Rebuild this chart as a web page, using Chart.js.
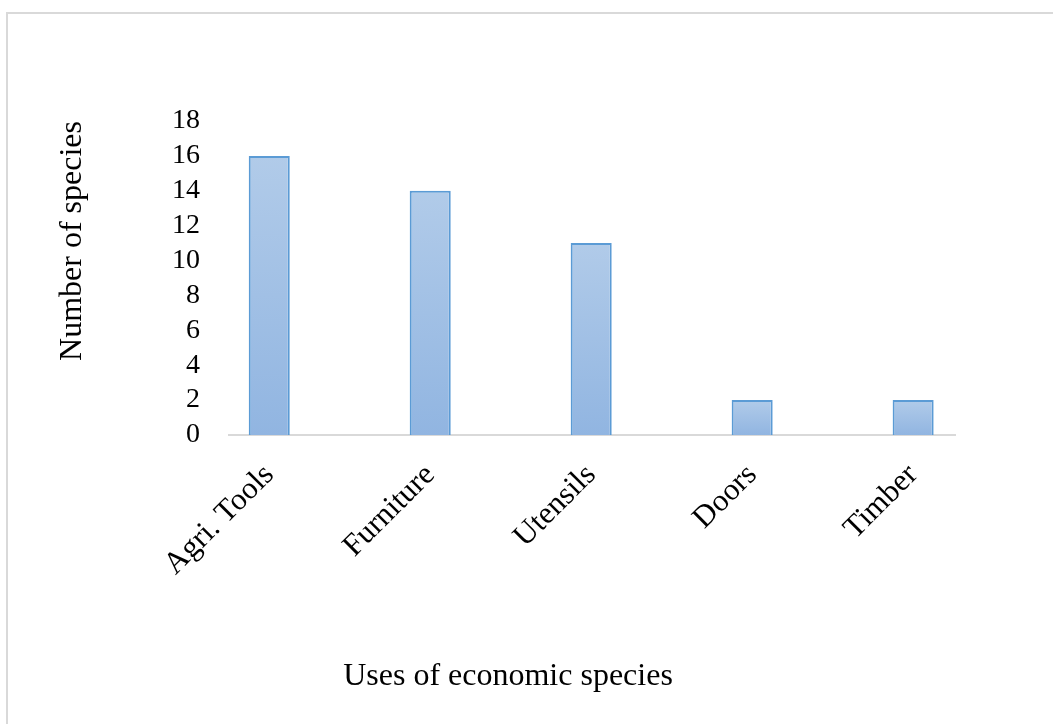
<!DOCTYPE html>
<html>
<head>
<meta charset="utf-8">
<title>Uses of economic species</title>
<script src="https://cdn.jsdelivr.net/npm/chart.js@4/dist/chart.umd.min.js"></script>
<style>
  html, body { margin: 0; padding: 0; background: #fff; overflow: hidden; }
  .frame {
    position: absolute;
    left: 6px;
    top: 12px;
    width: 1200px;
    height: 900px;
    border-left: 2px solid #d9d9d9;
    border-top: 2px solid #d9d9d9;
  }
  #usesChart { position: absolute; left: 0; top: 0; }
</style>
</head>
<body>
<div class="frame"></div>
<canvas id="usesChart" width="1053" height="724"></canvas>
<script>
const categories = ['Agri. Tools', 'Furniture', 'Utensils', 'Doors', 'Timber'];
const speciesCount = [16, 14, 11, 2, 2];
const yTicks = [0, 2, 4, 6, 8, 10, 12, 14, 16, 18];

const serif = "'Liberation Serif', 'Times New Roman', serif";

// light-to-darker blue per bar, top to bottom
function barFill(context) {
  const chart = context.chart;
  const yScale = chart.scales.y;
  if (!yScale || !context.raw) return '#a4c2e6';
  const top = yScale.getPixelForValue(context.raw.y);
  const bottom = yScale.getPixelForValue(0);
  if (!isFinite(top) || !isFinite(bottom) || top === bottom) return '#a4c2e6';
  const grad = chart.ctx.createLinearGradient(0, top, 0, bottom);
  grad.addColorStop(0, '#b1cbe9');
  grad.addColorStop(1, '#91b5e1');
  return grad;
}

function renderChart() {
  const ctx = document.getElementById('usesChart').getContext('2d');

  new Chart(ctx, {
    type: 'bar',
    data: {
      datasets: [{
        label: 'Number of species',
        data: speciesCount.map((v, i) => ({ x: i, y: v })),
        backgroundColor: barFill,
        borderColor: '#5b9bd5',
        borderWidth: 2,
        barPercentage: 0.255,
        categoryPercentage: 1
      }]
    },
    options: {
      responsive: false,
      animation: false,
      layout: {
        padding: { left: 61, right: 98, top: 121, bottom: 0 }
      },
      plugins: {
        legend: { display: false },
        tooltip: { enabled: false },
        title: {
          display: true,
          position: 'bottom',
          text: 'Uses of economic species',
          color: '#000',
          font: { family: serif, size: 32, weight: 'normal', lineHeight: 1.2 },
          padding: { top: 0, bottom: 28 }
        }
      },
      scales: {
        x: {
          type: 'linear',
          offset: false,
          min: -0.25,
          max: 4.26,
          afterBuildTicks: scale => {
            scale.ticks = categories.map((c, i) => ({ value: i }));
          },
          afterFit: scale => {
            scale.height = 222.6;
          },
          grid: { display: false, drawTicks: false, offset: false },
          border: { display: true, color: '#d9d9d9', width: 2 },
          ticks: {
            autoSkip: false,
            minRotation: 45,
            maxRotation: 45,
            padding: 22,
            color: '#000',
            font: { family: serif, size: 31 },
            callback: value => categories[value]
          }
        },
        y: {
          min: 0,
          max: 18,
          afterBuildTicks: scale => {
            scale.ticks = yTicks.map(v => ({ value: v }));
          },
          afterFit: scale => {
            scale.width = 168;
          },
          grid: { display: false, drawTicks: false },
          border: { display: false },
          ticks: {
            autoSkip: false,
            padding: 29,
            color: '#000',
            font: { family: serif, size: 28 }
          },
          title: {
            display: true,
            text: 'Number of species',
            align: 'end',
            color: '#000',
            font: { family: serif, size: 32, lineHeight: 0.7 },
            padding: 0
          }
        }
      }
    }
  });
}

document.addEventListener('DOMContentLoaded', renderChart);
</script>
</body>
</html>
